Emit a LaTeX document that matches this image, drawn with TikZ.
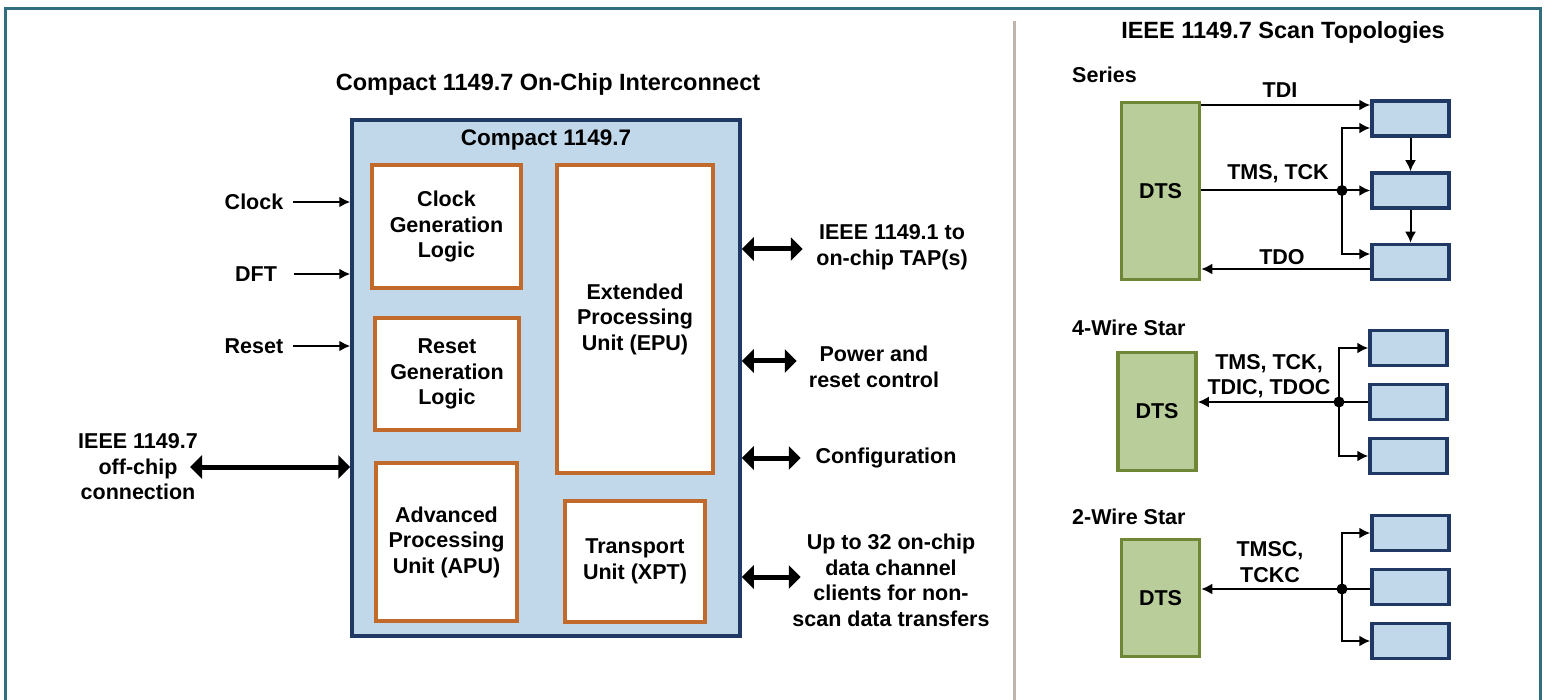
\documentclass[tikz,border=0pt]{standalone}
\usepackage{fontspec}
\setmainfont{Liberation Sans}
\usetikzlibrary{arrows.meta}
\definecolor{framecol}{HTML}{336E80}
\definecolor{sepcol}{HTML}{BEB6AE}
\definecolor{chipfill}{HTML}{C1D8EA}
\definecolor{chipline}{HTML}{1F3864}
\definecolor{unitline}{HTML}{C2692C}
\definecolor{dtsfill}{HTML}{B8CD9A}
\definecolor{dtsline}{HTML}{6E8636}
\tikzset{
    lbl/.style = {font=\fontsize{21.5}{25.5}\selectfont\bfseries, align=center, inner sep=0pt},
    title/.style = {font=\fontsize{23.5}{28}\selectfont\bfseries, inner sep=0pt},
    chip/.style = {draw=chipline, fill=chipfill, line width=3.5pt, rectangle},
    unit/.style = {draw=unitline, fill=white, line width=3.5pt, rectangle, lbl},
    dts/.style = {draw=dtsline, fill=dtsfill, line width=3.5pt, rectangle, lbl,
        minimum width=78pt, minimum height=177pt},
    tap/.style = {draw=chipline, fill=chipfill, line width=3.5pt, rectangle,
        minimum width=77pt, minimum height=35pt},
    sig/.style = {draw, line width=2pt, -{Latex[length=11pt,width=11pt]}},
    bus/.style = {draw, line width=5pt, {Triangle[length=12pt,width=23pt]}-{Triangle[length=12pt,width=23pt]}},
    junction/.style = {circle, fill, inner sep=0pt, minimum size=11pt}
}

\begin{document}
\begin{tikzpicture}[x=1pt,y=-1pt]
    \useasboundingbox (0,0) rectangle (1545,700);
    % frame and separator
    \draw[framecol, line width=3pt] (5,702) -- (5,9) -- (1540,9) -- (1540,702);
    \draw[sepcol, line width=3pt] (1014,21) -- (1014,700);

    % ----- on-chip interconnect -----
    \node[title] at (548,84) {Compact 1149.7 On-Chip Interconnect};
    \node[chip, minimum width=388pt, minimum height=516pt] (chip) at (546,378) {};
    \node[lbl, font=\fontsize{22.5}{27}\selectfont\bfseries] at (546,140) {Compact 1149.7};

    \node[unit, minimum width=149pt, minimum height=123pt] (clkgen) at (446.5,226.5) {Clock\\Generation\\Logic};
    \node[unit, minimum width=144pt, minimum height=112pt] (rstgen) at (447,374) {Reset\\Generation\\Logic};
    \node[unit, minimum width=141pt, minimum height=158pt] (apu) at (446.5,542) {Advanced\\Processing\\Unit (APU)};
    \node[unit, minimum width=156pt, minimum height=308pt] (epu) at (635,319) {Extended\\Processing\\Unit (EPU)};
    \node[unit, minimum width=140pt, minimum height=121pt] (xpt) at (635,561.5) {Transport\\Unit (XPT)};

    % inputs
    \node[lbl] (clk) at (254,202) {Clock};
    \node[lbl] (dft) at (256,274) {DFT};
    \node[lbl] (rst) at (254,346) {Reset};
    \draw[sig] ([xshift=10pt]clk.east) -- (clk.east -| chip.west);
    \draw[sig] ([xshift=17pt]dft.east) -- (dft.east -| chip.west);
    \draw[sig] ([xshift=10pt]rst.east) -- (rst.east -| chip.west);

    \node[lbl] (offchip) at (138,467) {IEEE 1149.7\\off-chip\\connection};
    \coordinate (offend) at (190,467);
    \draw[bus] (offend) -- (offend -| chip.west);

    % outputs
    \node[lbl] (tap) at (892,247) {IEEE 1149.1 to\\on-chip TAP(s)};
    \node[lbl] (pwr) at (874,367) {Power and\\reset control};
    \node[lbl] (cfg) at (886,458) {Configuration};
    \node[lbl] (dch) at (891,580.5) {Up to 32 on-chip\\data channel\\clients for non-\\scan data transfers};
    \draw[bus] (chip.east |- 0,249) -- ++(61,0);
    \draw[bus] (chip.east |- 0,361) -- ++(55,0);
    \draw[bus] (chip.east |- cfg.west) -- ++(59,0);
    \draw[bus] (chip.east |- 0,577) -- ++(59,0);

    % ----- scan topologies -----
    \node[title] at (1283,32) {IEEE 1149.7 Scan Topologies};

    % series
    \node[lbl, anchor=west] at (1072,75) {Series};
    \node[dts] (dtsS) at (1160.5,191) {DTS};
    \node[tap] (tapS1) at (1410.5,118.5) {};
    \node[tap] (tapS2) at (1410.5,190.5) {};
    \node[tap] (tapS3) at (1410.5,262) {};
    \coordinate (tdi) at ([yshift=13.5pt]tapS1.west);
    \coordinate (tdo) at ([yshift=-7pt]tapS3.west);
    \draw[sig] (dtsS.east |- tdi) -- (tdi);
    \draw[sig] (dtsS.east |- tapS2.west) -- (tapS2.west);
    \node[junction] (jS) at (1342,190.5) {};
    \draw[sig] (jS.center) |- ([yshift=-9.5pt]tapS1.west);
    \draw[sig] (jS.center) |- ([yshift=8pt]tapS3.west);
    \draw[sig] (tdo) -- (dtsS.east |- tdo);
    \draw[sig] (tapS1.south) -- (tapS2.north);
    \draw[sig] (tapS2.south) -- (tapS3.north);
    \node[lbl] at (1280,90) {TDI};
    \node[lbl] at (1278,174) {TMS, TCK};
    \node[lbl] at (1282,257) {TDO};

    % 4-wire star
    \node[lbl, anchor=west] at (1072,328) {4-Wire Star};
    \node[dts, minimum height=118pt] (dtsF) at (1157,411.5) {DTS};
    \node[tap] (tapF1) at (1408.5,348) {};
    \node[tap] (tapF2) at (1408.5,402) {};
    \node[tap] (tapF3) at (1408.5,456) {};
    \node[junction] (jF) at (1339,402) {};
    \draw[sig, {Latex[length=11pt,width=11pt]}-] (dtsF.east |- tapF2.west) -- (tapF2.west);
    \draw[sig] (jF.center) |- (tapF1.west);
    \draw[sig] (jF.center) |- (tapF3.west);
    \node[lbl] at (1269,376) {TMS, TCK,\\TDIC, TDOC};

    % 2-wire star
    \node[lbl, anchor=west] at (1072,517) {2-Wire Star};
    \node[dts, minimum height=117pt] (dtsT) at (1160.5,598) {DTS};
    \node[tap] (tapT1) at (1410.5,533) {};
    \node[tap] (tapT2) at (1410.5,587) {};
    \node[tap] (tapT3) at (1410.5,641) {};
    \node[junction] (jT) at (1342,589) {};
    \draw[sig, {Latex[length=11pt,width=11pt]}-] (dtsT.east |- jT) -- (tapT2.west |- jT);
    \draw[sig] (jT.center) |- (tapT1.west);
    \draw[sig] (jT.center) |- (tapT3.west);
    \node[lbl] at (1270,562) {TMSC,\\TCKC};
\end{tikzpicture}
\end{document}
